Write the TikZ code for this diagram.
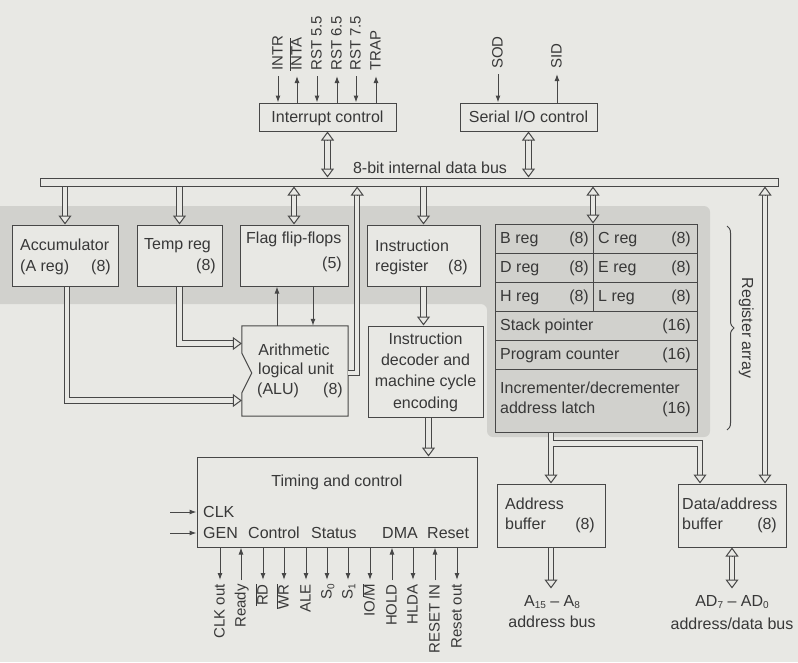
\documentclass[tikz,border=0pt]{standalone}
\usepackage{fontspec}
\setmainfont{Liberation Sans}
\usetikzlibrary{arrows.meta,calc,decorations.pathreplacing}
\definecolor{paper}{HTML}{E8E8E4}
\definecolor{shadeg}{HTML}{D1D1CD}
\definecolor{lc}{HTML}{474747}
\definecolor{txt}{HTML}{383838}
\newcommand\ovl[1]{$\overline{\hbox{#1}}$}
\newcommand\sbs[1]{\raisebox{-0.35ex}{\fontsize{10}{10}\selectfont #1}}
\newcommand\htipto[2]{\draw[htip] ($(#2)!9pt!(#1)$) -- (#2);}
\tikzset{
 box/.style={draw=lc, line width=1pt, fill=paper, rectangle, inner sep=0pt},
 lbl/.style={text=txt, inner sep=0pt, font=\fontsize{16}{18}\selectfont, text height=12pt, text depth=2pt},
 pinl/.style={text=txt, inner sep=0pt, font=\fontsize{15}{17}\selectfont, text height=11pt, text depth=2pt},
 hol/.style={draw=lc, line width=1pt, double=paper, double distance=4.5pt},
 htip/.style={draw=lc, line width=1pt, -{Triangle[length=9pt,width=13pt,fill=paper]}},
 sig/.style={draw=lc, line width=1pt},
 sa/.style={sig, -{Latex[length=7pt,width=5pt]}},
}
\begin{document}
\begin{tikzpicture}[x=1pt,y=-1pt]
\useasboundingbox (0,0) rectangle (798,662);
\fill[paper] (0,0) rectangle (798,662);
\fill[shadeg, rounded corners=6pt] (-10,206) -- (710,206) -- (710,437) -- (487,437) -- (487,304) -- (-10,304) -- cycle;

% ---------- bus ----------
\node[box, minimum width=738pt, minimum height=8pt] (bus) at (409,182) {};
\node[lbl] (busl) at (430,168) {8-bit internal data bus};

% ---------- interrupt & serial ----------
\node[box, lbl, minimum width=137pt, minimum height=28pt] (intc) at (327.5,117) {Interrupt control};
\node[box, lbl, minimum width=137pt, minimum height=28pt] (sio) at (528.5,117) {Serial I/O control};

\coordinate (p1) at (278,76); \coordinate (p2) at (297,76); \coordinate (p3) at (317,76);
\coordinate (p4) at (337,76); \coordinate (p5) at (356,76); \coordinate (p6) at (376,76);
\draw[sa] (p1) -- (p1 |- intc.north);
\draw[sa] (p2 |- intc.north) -- (p2);
\draw[sa] (p3) -- (p3 |- intc.north);
\draw[sa] (p4 |- intc.north) -- (p4);
\draw[sa] (p5) -- (p5 |- intc.north);
\draw[sa] (p6 |- intc.north) -- (p6);
\node[pinl, rotate=90, anchor=west] (l1) at (278,71) {INTR};
\node[pinl, rotate=90, anchor=west] (l2) at (297,71) {\ovl{INTA}};
\node[pinl, rotate=90, anchor=west] (l3) at (317,71) {RST 5.5};
\node[pinl, rotate=90, anchor=west] (l4) at (337,71) {RST 6.5};
\node[pinl, rotate=90, anchor=west] (l5) at (356,71) {RST 7.5};
\node[pinl, rotate=90, anchor=west] (l6) at (376,71) {TRAP};

\coordinate (sod) at (498,74); \coordinate (sid) at (557,74);
\draw[sa] (sod) -- (sod |- sio.north);
\draw[sa] (sid |- sio.north) -- (sid);
\node[pinl, rotate=90, anchor=west] (lsod) at (498,69) {SOD};
\node[pinl, rotate=90, anchor=west] (lsid) at (557,69) {SID};

\coordinate (ib) at (intc.south |- bus.north);
\draw[hol, shorten <=8pt, shorten >=8pt] (intc.south) -- (ib);
\htipto{ib}{intc.south} \htipto{intc.south}{ib}
\coordinate (sb) at (sio.south |- bus.north);
\draw[hol, shorten <=8pt, shorten >=8pt] (sio.south) -- (sb);
\htipto{sb}{sio.south} \htipto{sio.south}{sb}

% ---------- top row ----------
\node[box, minimum width=106pt, minimum height=61pt] (acc) at (65,255.5) {};
\node[box, minimum width=85pt, minimum height=61pt] (tmp) at (179.5,255.5) {};
\node[box, minimum width=108pt, minimum height=61pt] (flag) at (294,255.5) {};
\node[box, minimum width=113pt, minimum height=61pt] (ir) at (423.5,255.5) {};

\node[lbl, anchor=west] (ta1) at (20,245) {Accumulator};
\node[lbl, anchor=west] (ta2) at (20,266) {(A reg)};
\node[lbl, anchor=east] (ta3) at (111,266) {(8)};
\node[lbl, anchor=west] (tt1) at (144,244) {Temp reg};
\node[lbl, anchor=east] (tt2) at (216,265) {(8)};
\node[lbl, anchor=west] (tf1) at (246,238) {Flag flip-flops};
\node[lbl, anchor=east] (tf2) at (342,263) {(5)};
\node[lbl, anchor=west] (ti1) at (375,246) {Instruction};
\node[lbl, anchor=west] (ti2) at (375,266) {register};
\node[lbl, anchor=east] (ti3) at (468,266) {(8)};

% ---------- register array ----------
\node[draw=lc, line width=1pt, minimum width=202pt, minimum height=208pt, inner sep=0pt] (regs) at (596,328) {};
\foreach \yy in {253,282,311,340,369} \draw[sig] (495,\yy) -- (697,\yy);
\draw[sig] (593,224) -- (593,311);
\node[lbl, anchor=west] (r1) at (500,238.5) {B reg};
\node[lbl, anchor=east] (r2) at (589,238.5) {(8)};
\node[lbl, anchor=west] (r3) at (598,238.5) {C reg};
\node[lbl, anchor=east] (r4) at (691,238.5) {(8)};
\node[lbl, anchor=west] (r5) at (500,267.5) {D reg};
\node[lbl, anchor=east] (r6) at (589,267.5) {(8)};
\node[lbl, anchor=west] (r7) at (598,267.5) {E reg};
\node[lbl, anchor=east] (r8) at (691,267.5) {(8)};
\node[lbl, anchor=west] (r9) at (500,296.5) {H reg};
\node[lbl, anchor=east] (r10) at (589,296.5) {(8)};
\node[lbl, anchor=west] (r11) at (598,296.5) {L reg};
\node[lbl, anchor=east] (r12) at (691,296.5) {(8)};
\node[lbl, anchor=west] (r13) at (500,325.5) {Stack pointer};
\node[lbl, anchor=east] (r14) at (691,325.5) {(16)};
\node[lbl, anchor=west] (r15) at (500,354.5) {Program counter};
\node[lbl, anchor=east] (r16) at (691,354.5) {(16)};
\node[lbl, anchor=west] (r17) at (500,388) {Incrementer/decrementer};
\node[lbl, anchor=west] (r18) at (500,408) {address latch};
\node[lbl, anchor=east] (r19) at (691,408) {(16)};
\draw[sig, decorate, decoration={brace, amplitude=7pt}] (727,226) -- (727,430);
\node[lbl, rotate=-90] (rlab) at (747,328) {Register array};

% ---------- ALU ----------
\node[minimum width=106pt, minimum height=90pt, inner sep=0pt] (alu) at (295,371) {};
\draw[line width=1pt, draw=lc, fill=paper] (alu.north west) -- (alu.north east) -- (alu.south east) -- (alu.south west) -- ($(alu.west)+(0,22)$) -- ($(alu.west)+(10,2)$) -- ($(alu.west)+(0,-18)$) -- cycle;
\node[lbl] (al1) at (294,350) {Arithmetic};
\node[lbl] (al2) at (296,369) {logical unit};
\node[lbl, anchor=west] (al3) at (257,389) {(ALU)};
\node[lbl, anchor=east] (al4) at (343,389) {(8)};

% ---------- decoder ----------
\node[box, minimum width=115pt, minimum height=91pt] (dec) at (425.5,371.5) {};
\node[lbl] (d1) at (425.5,339) {Instruction};
\node[lbl] (d2) at (425.5,360) {decoder and};
\node[lbl] (d3) at (425.5,381) {machine cycle};
\node[lbl] (d4) at (425.5,403) {encoding};

% ---------- timing and control ----------
\node[box, minimum width=280pt, minimum height=90pt] (tc) at (337,502) {};
\node[lbl] (tc1) at (337,481) {Timing and control};
\node[lbl, anchor=west] (tc2) at (203,512) {CLK};
\node[lbl, anchor=west] (tc3) at (203,533) {GEN};
\node[lbl, anchor=west] (tc4) at (248,533) {Control};
\node[lbl, anchor=west] (tc5) at (311,533) {Status};
\node[lbl, anchor=west] (tc6) at (382,533) {DMA};
\node[lbl, anchor=west] (tc7) at (427,533) {Reset};
\coordinate (clkin) at (170,512); \coordinate (genin) at (170,533);
\draw[sa] (clkin) -- (clkin -| tc.west);
\draw[sa] (genin) -- (genin -| tc.west);

% bottom pins: 1 = output (down), 0 = input (up)
\foreach \xx/\dd/\tt [count=\i] in {220/1/{CLK out}, 241/0/{Ready}, 263/1/{\ovl{RD}}, 284/1/{\ovl{WR}}, 306/1/{ALE}, 327/1/{S\sbs{0}}, 348/1/{S\sbs{1}}, 370/1/{IO/\ovl{M}}, 392/0/{HOLD}, 413/1/{HLDA}, 435/0/{RESET IN}, 457/1/{Reset out}}{
  \coordinate (c\i) at (\xx,580);
  \ifnum\dd=1 \draw[sa] (c\i |- tc.south) -- (c\i); \else \draw[sa] (c\i) -- (c\i |- tc.south); \fi
  \node[pinl, rotate=90, anchor=east] (bl\i) at (\xx,584) {\tt};
}

% ---------- buffers ----------
\node[box, minimum width=108pt, minimum height=63pt] (ab) at (551,515.5) {};
\node[box, minimum width=108pt, minimum height=63pt] (dab) at (732,515.5) {};
\node[lbl, anchor=west] (ab1) at (505,504) {Address};
\node[lbl, anchor=west] (ab2) at (505,524) {buffer};
\node[lbl, anchor=east] (ab3) at (595,524) {(8)};
\node[lbl, anchor=west] (db1) at (682,504) {Data/address};
\node[lbl, anchor=west] (db2) at (682,524) {buffer};
\node[lbl, anchor=east] (db3) at (777,524) {(8)};
\node[lbl] (abl1) at (552,601) {A\sbs{15} – A\sbs{8}};
\node[lbl] (abl2) at (552,622) {address bus};
\node[lbl] (dbl1) at (732,601) {AD\sbs{7} – AD\sbs{0}};
\node[lbl] (dbl2) at (732,624) {address/data bus};

% ---------- hollow bus connections ----------
\coordinate (bacc) at (acc.north |- bus.south);
\draw[hol, shorten >=8pt] (bacc) -- (acc.north); \htipto{bacc}{acc.north}
\coordinate (btmp) at (tmp.north |- bus.south);
\draw[hol, shorten >=8pt] (btmp) -- (tmp.north); \htipto{btmp}{tmp.north}
\coordinate (bflg) at (flag.north |- bus.south);
\draw[hol, shorten <=8pt, shorten >=8pt] (bflg) -- (flag.north); \htipto{bflg}{flag.north} \htipto{flag.north}{bflg}
\coordinate (bir) at (ir.north |- bus.south);
\draw[hol, shorten >=8pt] (bir) -- (ir.north); \htipto{bir}{ir.north}
\coordinate (rtop) at ($(regs.north)+(-3,0)$);
\coordinate (brg) at (rtop |- bus.south);
\draw[hol, shorten <=8pt, shorten >=8pt] (brg) -- (rtop); \htipto{brg}{rtop} \htipto{rtop}{brg}
\coordinate (dtop) at ($(dab.north)+(33,0)$);
\coordinate (bdb) at (dtop |- bus.south);
\draw[hol, shorten <=8pt, shorten >=8pt] (bdb) -- (dtop); \htipto{bdb}{dtop} \htipto{dtop}{bdb}

% ALU to bus
\coordinate (aluo) at ($(alu.east)+(0,2)$);
\coordinate (aluc) at ($(aluo)+(9,0)$);
\coordinate (alub) at (aluc |- bus.south);
\draw[hol, shorten >=8pt] (aluo) -- (aluc) -- (alub); \htipto{aluc}{alub}

% temp / acc to ALU
\coordinate (tmpc) at ($(tmp.south)+(0,57)$);
\coordinate (tmpa) at (tmpc -| alu.west);
\draw[hol, shorten >=8pt] (tmp.south) -- (tmpc) -- (tmpa); \htipto{tmpc}{tmpa}
\coordinate (acco) at ($(acc.south)+(2,0)$);
\coordinate (accc) at ($(acco)+(0,114)$);
\coordinate (acca) at (accc -| alu.west);
\draw[hol, shorten >=8pt] (acco) -- (accc) -- (acca); \htipto{accc}{acca}

% flag <-> ALU
\coordinate (fa1) at ($(alu.north)+(-18,0)$);
\coordinate (fa2) at ($(alu.north)+(18,0)$);
\draw[sa] (fa1) -- (fa1 |- flag.south);
\draw[sa] (fa2 |- flag.south) -- (fa2);

% IR -> decoder -> timing
\coordinate (decin) at (ir.south |- dec.north);
\draw[hol, shorten >=8pt] (ir.south) -- (decin); \htipto{ir.south}{decin}
\coordinate (deco) at ($(dec.south)+(3,0)$);
\coordinate (tcin) at (deco |- tc.north);
\draw[hol, shorten >=8pt] (deco) -- (tcin); \htipto{deco}{tcin}

% register array -> buffers
\coordinate (ro) at (ab.north |- regs.south);
\coordinate (rb) at ($(ro)+(0,11)$);
\coordinate (dtop2) at ($(dab.north)+(-32,0)$);
\coordinate (rc) at (rb -| dtop2);
\draw[hol, shorten >=8pt] (ro) -- (rb) -- (rc) -- (dtop2); \htipto{rc}{dtop2}
\draw[hol, shorten >=8pt] (ro) -- (ab.north); \htipto{ro}{ab.north}
\draw[paper, line width=4.5pt] (rb) -- ($(rb)+(6,0)$);

% buffers -> external buses
\coordinate (abo) at ($(ab.south)+(0,41)$);
\draw[hol, shorten >=8pt] (ab.south) -- (abo); \htipto{ab.south}{abo}
\coordinate (dabo) at ($(dab.south)+(0,41)$);
\draw[hol, shorten <=8pt, shorten >=8pt] (dab.south) -- (dabo); \htipto{dab.south}{dabo} \htipto{dabo}{dab.south}
\end{tikzpicture}
\end{document}
